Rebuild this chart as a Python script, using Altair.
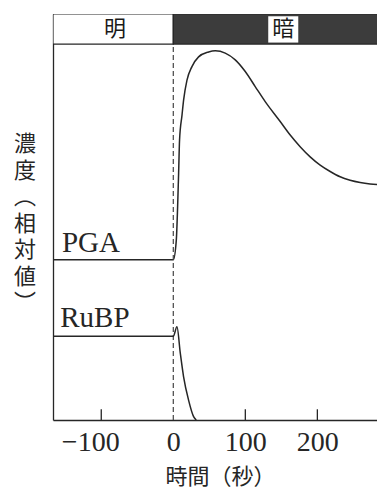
import altair as alt
import pandas as pd

# ---- data ----
# PGA concentration (relative) vs time (s)
pga_t = [-167, 0, 4.2, 6.0, 7.4, 8.7, 12.1, 14.3, 19.0, 25.9, 35.1, 49.0, 58.3, 72.1,
         86.0, 99.9, 113.7, 127.6, 148.4, 162.3, 176.1, 190.0, 203.9, 217.8, 231.6,
         245.5, 259.4, 273.2, 294.0]
pga_v = [42.6, 42.6, 47.9, 56.7, 65.7, 74.5, 81.1, 85.1, 90.4, 94.0, 96.6, 97.9, 98.2, 97.6,
         95.8, 92.7, 88.7, 84.7, 79.4, 75.8, 72.7, 70.0, 67.8, 66.1, 64.7,
         63.8, 63.2, 62.8, 62.5]
# RuBP concentration (relative) vs time (s)
rubp_t = [-167, 0, 5.1, 9.7, 14.3, 21.2, 28.2, 31.9]
rubp_v = [22.3, 22.3, 24.8, 17.8, 11.5, 5.3, 0.9, 0.0]

# light / dark phases shown in the top band
phase_names = ["明", "暗"]
phase_start = [-167, 0]
phase_end = [0, 294]
phase_fill = ["#ffffff", "#3c3c3c"]
band_low, band_high = 100, 108
phase_label_t = [-81, 152.6]
dark_box_t = [131.8, 173.5]
dark_box_v = [100.4, 107.4]

series_names = ["PGA", "RuBP"]
series_label_t = [-154.6, -157.0]
series_label_v = [44.8, 24.8]

tick_values = [-100, 0, 100, 200]
inner_ticks = [-100, 100, 200]
tick_len = 2.85

x_title = "時間（秒）"
y_title_chars = ["濃", "度", "︵", "相", "対", "値", "︶"]

x_domain = [-167, 282.8]
y_domain = [0, 108]

INK = "#262626"

xs = alt.Scale(domain=x_domain, nice=False, zero=False)
ys = alt.Scale(domain=y_domain, nice=False, zero=False)

x_axis = alt.Axis(
    values=tick_values, ticks=False, tickSize=0, grid=False,
    labelFont="Liberation Serif", labelFontSize=28, labelColor=INK,
    labelBaseline="middle", labelPadding=22,
    labelOffset={"condition": {"test": "datum.value < 0", "value": -11}, "value": 0},
    domainColor=INK, domainWidth=1.3,
    title=x_title, titleFont="Noto Sans CJK JP", titleFontSize=22,
    titleFontWeight="normal", titleColor=INK, titleX=167, titleY=56,
    titleBaseline="middle", titleAlign="center",
)
y_axis = alt.Axis(ticks=False, labels=False, grid=False, title="",
                  domainColor=INK, domainWidth=1.3)


def X(field="t"):
    return alt.X(f"{field}:Q", scale=xs, axis=x_axis)


def Y(field="v"):
    return alt.Y(f"{field}:Q", scale=ys, axis=y_axis)


pga_df = pd.DataFrame({"t": pga_t, "v": pga_v})
rubp_df = pd.DataFrame({"t": rubp_t, "v": rubp_v})
phase_df = pd.DataFrame({"name": phase_names, "t": phase_start, "t2": phase_end,
                         "fill": phase_fill, "v": [band_low] * 2, "v2": [band_high] * 2,
                         "lt": phase_label_t, "lv": [104.0] * 2})
box_df = pd.DataFrame({"t": [dark_box_t[0]], "t2": [dark_box_t[1]],
                       "v": [dark_box_v[0]], "v2": [dark_box_v[1]]})
lab_df = pd.DataFrame({"name": series_names, "t": series_label_t, "v": series_label_v})
tick_df = pd.DataFrame({"t": inner_ticks, "v": [0] * len(inner_ticks),
                        "v2": [tick_len] * len(inner_ticks)})
zero_df = pd.DataFrame({"t": [0], "v": [0], "v2": [band_low]})
ytitle_df = pd.DataFrame({"label": ["\n".join(y_title_chars)]})

pga_line = alt.Chart(pga_df).mark_line(
    color=INK, strokeWidth=1.5, interpolate="monotone", clip=True
).encode(x=X(), y=Y())
rubp_line = alt.Chart(rubp_df).mark_line(
    color=INK, strokeWidth=1.5, interpolate="monotone", clip=True
).encode(x=X(), y=Y())
band = alt.Chart(phase_df).mark_rect(stroke=INK, strokeWidth=1.2, clip=True).encode(
    x=X(), x2="t2:Q", y=Y(), y2="v2:Q",
    fill=alt.Fill("fill:N", scale=None),
)
box = alt.Chart(box_df).mark_rect(fill="#ffffff").encode(
    x=X(), x2="t2:Q", y=Y(), y2="v2:Q",
)
phase_text = alt.Chart(phase_df).mark_text(
    font="Noto Sans CJK JP", fontSize=22, color="#1a1a1a", baseline="middle", align="center"
).encode(
    x=X("lt"), y=Y("lv"), text="name:N",
)
zero_rule = alt.Chart(zero_df).mark_rule(color="#444444", strokeWidth=1.2, strokeDash=[5, 3]).encode(
    x=X(), y=Y(), y2="v2:Q",
)
ticks = alt.Chart(tick_df).mark_rule(color=INK, strokeWidth=1.3).encode(
    x=X(), y=Y(), y2="v2:Q",
)
series_text = alt.Chart(lab_df).mark_text(
    font="Liberation Serif", fontSize=29, color=INK, align="left", baseline="alphabetic"
).encode(
    x=X(), y=Y(), text="name:N",
)
ytitle = alt.Chart(ytitle_df).mark_text(
    font="Noto Sans CJK JP", fontSize=22, lineHeight=26.5, lineBreak="\n",
    color=INK, align="center", baseline="middle"
).encode(
    x=alt.value(-28), y=alt.value(130), text="label:N",
)

chart = alt.layer(
    pga_line, band, box, phase_text, zero_rule, rubp_line, ticks, series_text, ytitle
).properties(
    width=324, height=406,
    autosize=alt.AutoSizeParams(type="none"),
    padding={"left": 45, "top": 6, "right": 0, "bottom": 69},
    background="#ffffff",
).configure_view(strokeWidth=0)

chart.save("out.html", embed_options={"renderer": "svg", "actions": False})
